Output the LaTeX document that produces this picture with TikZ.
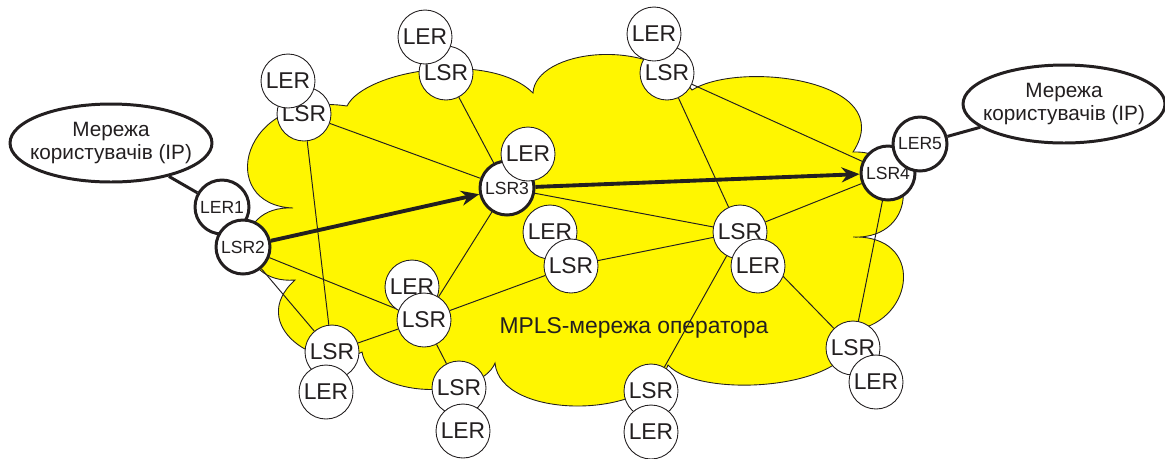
\documentclass[tikz,border=0pt]{standalone}
\usepackage{fontspec}
\setmainfont{Liberation Sans}
\usetikzlibrary{shapes.geometric,arrows.meta}
\definecolor{cloudyellow}{RGB}{255,246,0}
\definecolor{ink}{RGB}{35,31,32}
\pgfdeclarelayer{bg}
\pgfsetlayers{bg,main}
\tikzset{
  rt/.style={circle, draw=ink, fill=white, line width=0.5pt, inner sep=0pt,
    minimum size=1.08cm, text=ink, font=\fontsize{13}{15}\selectfont},
  rtkey/.style={rt, line width=1.7pt, font=\fontsize{10}{12}\selectfont},
  usernet/.style={ellipse, draw=ink, fill=white, line width=1.7pt, inner sep=0pt,
    minimum width=4.04cm, minimum height=1.56cm,
    label={[align=center, text=ink, font=\fontsize{11.8}{12.8}\selectfont]center:#1}},
  link/.style={draw=ink, line width=0.55pt},
  uplink/.style={draw=ink, line width=1.7pt},
  lsp/.style={draw=ink, line width=2.2pt, -{Stealth[length=0.36cm, width=0.3cm]}}
}

\begin{document}
\begin{tikzpicture}[x=0.02cm, y=-0.02cm]
    \useasboundingbox (0,0) rectangle (1165,458);

    \node(Sa)[rt] at (304,114) {LSR};
    \node(Ea)[rt] at (288,81) {LER};
    \node(Sb)[rt] at (446,73) {LSR};
    \node(Eb)[rt] at (425,37) {LER};
    \node(Sc)[rt] at (667,73) {LSR};
    \node(Ec)[rt] at (654,34) {LER};
    \node(LSR3)[rtkey] at (507,188) {LSR3};
    \node(E3)[rt] at (528,154) {LER};
    \node(LSR4)[rtkey] at (888,173) {LSR4};
    \node(LER5)[rtkey] at (920,144) {LER5};
    \node(LER1)[rtkey] at (222,207) {LER1};
    \node(LSR2)[rtkey] at (243,247) {LSR2};
    \node(Ed)[rt] at (412,287) {LER};
    \node(Sd)[rt] at (424,320) {LSR};
    \node(Se)[rt] at (332,352) {LSR};
    \node(Ee)[rt] at (326,392) {LER};
    \node(Sf)[rt] at (459,388) {LSR};
    \node(Ef)[rt] at (463,431) {LER};
    \node(Eg)[rt] at (550,232) {LER};
    \node(Sg)[rt] at (571,266) {LSR};
    \node(Sh)[rt] at (740,232) {LSR};
    \node(Eh)[rt] at (758,266) {LER};
    \node(Si)[rt] at (651,391) {LSR};
    \node(Ei)[rt] at (651,432) {LER};
    \node(Sj)[rt] at (853,348) {LSR};
    \node(Ej)[rt] at (876,382) {LER};

    \node(netL)[usernet={Мережа\\користувачів (IP)}] at (111,143) {};
    \node(netR)[usernet={Мережа\\користувачів (IP)}] at (1064,104) {};
    \node(mpls)[text=ink, font=\fontsize{13}{15}\selectfont] at (634,328) {MPLS-мережа оператора};

    \begin{pgfonlayer}{bg}
    % operator cloud
    \draw[ink, line width=0.5pt, fill=cloudyellow] (347,106)
      .. controls (365,70) and (490,50) .. (533,93)
      .. controls (535,50) and (650,35) .. (692,90)
      .. controls (740,60) and (900,80) .. (853,152)
      .. controls (920,150) and (920,240) .. (853,237)
      .. controls (925,235) and (915,320) .. (855,330)
      .. controls (860,390) and (700,400) .. (668,365)
      .. controls (650,420) and (500,420) .. (495,363)
      .. controls (480,400) and (370,400) .. (362,352)
      .. controls (320,375) and (245,325) .. (295,280)
      .. controls (235,285) and (230,205) .. (293,208)
      .. controls (215,205) and (240,90) .. cycle;

    \draw[link](Sa) -- (LSR3);
    \draw[link](Sa) -- (Se);
    \draw[link](Sb) -- (LSR3);
    \draw[link](Sc) -- (Sh);
    \draw[link](Sc) -- (LSR4);
    \draw[link](LSR3) -- (Sh);
    \draw[link](LSR3) -- (Sd);
    \draw[link](LSR2) -- (Sd);
    \draw[link](LSR2) -- (Se);
    \draw[link](Se) -- (Sd);
    \draw[link](Sd) -- (Sg);
    \draw[link](Sd) -- (Sf);
    \draw[link](Sg) -- (Sh);
    \draw[link](Sh) -- (LSR4);
    \draw[link](Sh) -- (Si);
    \draw[link](Sh) -- (Sj);
    \draw[link](LSR4) -- (Sj);

    \draw[uplink](netL) -- (LER1);
    \draw[uplink](netR) -- (LER5);
    \draw[lsp](LSR2) -- (LSR3);
    \draw[lsp](LSR3) -- (LSR4);
    \end{pgfonlayer}
\end{tikzpicture}
\end{document}
